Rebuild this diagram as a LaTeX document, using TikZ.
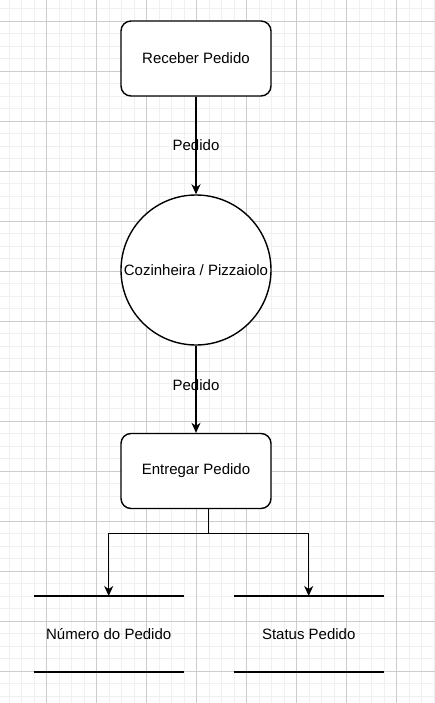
\documentclass[tikz,border=0pt]{standalone}
\usepackage{fontspec}
\setmainfont{Liberation Sans}
\usetikzlibrary{arrows.meta}

\begin{document}
\begin{tikzpicture}[x=1pt,y=-1pt,
    every node/.style={font=\fontsize{15}{18}\selectfont,inner sep=0pt},
    procbox/.style={draw=black,line width=1.4pt,rounded corners=10pt,fill=white,minimum width=150pt,minimum height=75pt},
    agent/.style={draw=black,line width=1.4pt,circle,fill=white,minimum size=150pt},
    store/.style={minimum width=150pt,minimum height=75.6pt},
    flow/.style={line width=1.4pt,-{Stealth[length=10pt,width=9pt,inset=3pt]}}]
            \useasboundingbox (0,0) rectangle (435,703);
            % grid
            \foreach \x in {-3.3,9.2,...,435} \draw[black!6,line width=0.8pt] (\x,0) -- (\x,703);
            \foreach \y in {-3.7,8.8,...,703} \draw[black!6,line width=0.8pt] (0,\y) -- (435,\y);
            \foreach \x in {-3.3,46.7,...,435} \draw[black!20,line width=0.8pt] (\x,0) -- (\x,703);
            \foreach \y in {21.3,71.3,...,703} \draw[black!20,line width=0.8pt] (0,\y) -- (435,\y);

            \node[procbox] (receber) at (196,58.5) {Receber Pedido};
            \node[agent] (cozinha) at (196,270) {Cozinheira / Pizzaiolo};
            \node[procbox] (entregar) at (196,471) {Entregar Pedido};
            \node[store] (numero) at (108.7,634) {Número do Pedido};
            \node[store] (status) at (308.7,634) {Status Pedido};
            \coordinate (split) at (208.7,533.7);

            \draw[line width=1.4pt] (numero.north west) -- (numero.north east);
            \draw[line width=1.4pt] (numero.south west) -- (numero.south east);
            \draw[line width=1.4pt] (status.north west) -- (status.north east);
            \draw[line width=1.4pt] (status.south west) -- (status.south east);

            \path [flow] (receber) edge node[pos=0.5] {Pedido} (cozinha);
            \path [flow] (cozinha) edge node[pos=0.45] {Pedido} (entregar);
            \draw [line width=1.4pt] (entregar.south -| split) -- (split);
            \draw [flow] (split) -| (numero.north);
            \draw [flow] (split) -| (status.north);
        \end{tikzpicture}
\end{document}
